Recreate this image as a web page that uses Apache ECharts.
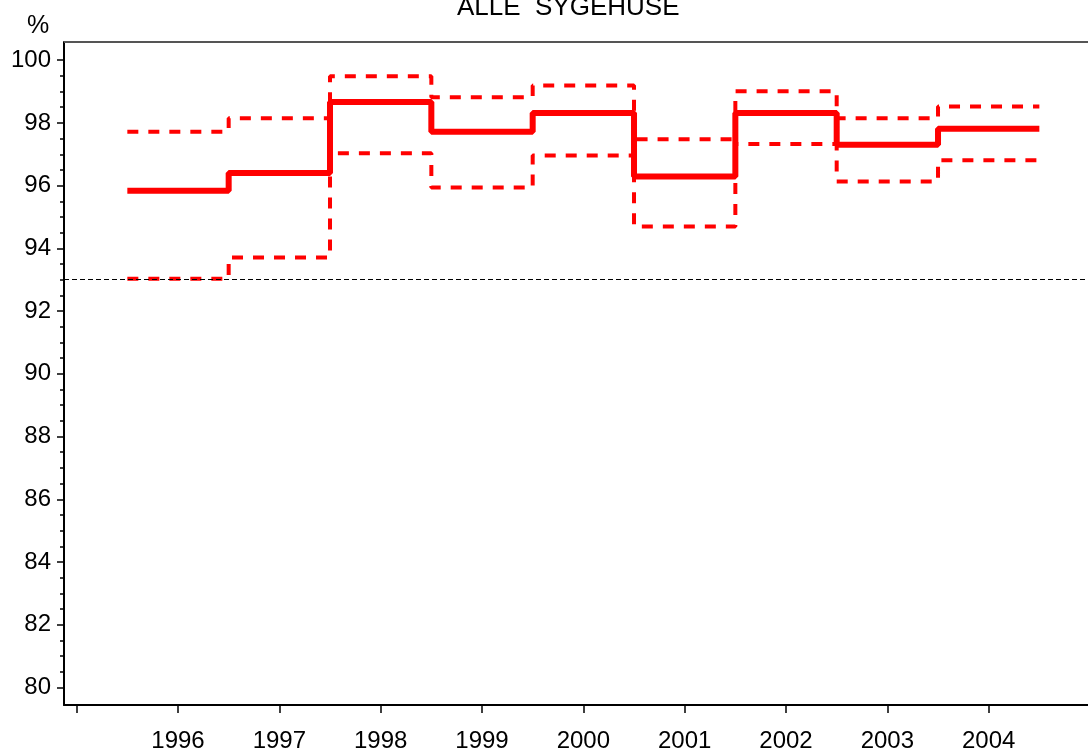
<!DOCTYPE html>
<html>
<head>
<meta charset="utf-8">
<script src="https://cdn.jsdelivr.net/npm/echarts@6/dist/echarts.min.js"></script>
<style>
  html, body { margin: 0; padding: 0; background: #fff; overflow: hidden; }
  #chart { width: 1088px; height: 753px; }
</style>
</head>
<body>
<div id="chart"></div>
<script>
// values, one step per year
const years = [1996, 1997, 1998, 1999, 2000, 2001, 2002, 2003, 2004]
const rate = [95.84, 96.40, 98.67, 97.72, 98.32, 96.29, 98.32, 97.30, 97.81]
const upper = [97.72, 98.15, 99.49, 98.82, 99.19, 97.48, 99.01, 98.15, 98.52]
const lower = [93.03, 93.71, 97.03, 95.94, 96.96, 94.70, 97.33, 96.13, 96.81]
const standard = 93

const yLabels = [80, 82, 84, 86, 88, 90, 92, 94, 96, 98, 100]
const xTicks = [1995, 1996, 1997, 1998, 1999, 2000, 2001, 2002, 2003, 2004, 2005]
const xLabels = years

// y range runs a little past 80 and 100, like the original frame
const yMin = 79.44
const yMax = 100.58

// minor ticks every half percent
const yMinor = []
for (let v = 80; v <= 100; v += 0.5) yMinor.push(v)

// each year is drawn as a flat step from mid-year to mid-year
function steps (vals) {
  const pts = []
  years.forEach((y, i) => {
    pts.push([y - 0.5, vals[i]])
    pts.push([y + 0.5, vals[i]])
  })
  return pts
}

const font = 'Liberation Sans, Arial, sans-serif'
const chart = echarts.init(document.getElementById('chart'))

chart.setOption({
  animation: false,
  backgroundColor: '#fff',
  title: {
    text: 'ALLE  SYGEHUSE',
    left: 452,
    top: -10,
    textStyle: { fontFamily: font, fontSize: 26, fontWeight: 'normal', color: '#000' }
  },
  graphic: [{
    type: 'text',
    left: 27,
    top: 14,
    style: { text: '%', fontFamily: font, fontSize: 25, fill: '#000' }
  }],
  grid: {
    left: 64,
    top: 42,
    bottom: 46,
    right: 0
  },
  xAxis: {
    type: 'value',
    min: 1994.875,
    max: 2004.98,
    splitLine: { show: false },
    axisLine: { lineStyle: { color: '#000', width: 2 } },
    axisTick: {
      customValues: xTicks,
      length: 8,
      lineStyle: { color: '#000', width: 1.5 }
    },
    axisLabel: {
      customValues: xLabels,
      margin: 24,
      fontFamily: font,
      fontSize: 24,
      color: '#000',
      formatter: v => String(v)
    }
  },
  yAxis: [{
    type: 'value',
    min: yMin,
    max: yMax,
    splitLine: { show: false },
    axisLine: { show: true, lineStyle: { color: '#000', width: 2 } },
    axisTick: {
      customValues: yLabels,
      length: 7,
      lineStyle: { color: '#000', width: 1.5 }
    },
    axisLabel: {
      customValues: yLabels,
      margin: 13,
      fontFamily: font,
      fontSize: 24,
      color: '#000'
    }
  }, {
    // overlay axis only for the short half-percent ticks
    type: 'value',
    position: 'left',
    min: yMin,
    max: yMax,
    splitLine: { show: false },
    axisLine: { show: false },
    axisLabel: { show: false },
    axisTick: {
      customValues: yMinor,
      length: 4,
      lineStyle: { color: '#000', width: 1.5 }
    }
  }],
  series: [{
    name: 'rate',
    type: 'line',
    data: steps(rate),
    showSymbol: false,
    lineStyle: { color: '#ff0000', width: 6 },
    // dashed standard line at 93 %
    markLine: {
      silent: true,
      symbol: 'none',
      label: { show: false },
      lineStyle: { color: '#000', type: [5, 3], width: 1 },
      data: [{ yAxis: standard }]
    },
    z: 3
  }, {
    name: 'upper',
    type: 'line',
    data: steps(upper),
    showSymbol: false,
    lineStyle: { color: '#ff0000', width: 4, type: [11, 10] },
    z: 4
  }, {
    name: 'lower',
    type: 'line',
    data: steps(lower),
    showSymbol: false,
    lineStyle: { color: '#ff0000', width: 4, type: [11, 10] },
    // top edge of the frame
    markLine: {
      silent: true,
      symbol: 'none',
      label: { show: false },
      lineStyle: { color: '#555', type: 'solid', width: 2 },
      data: [{ yAxis: yMax }]
    },
    z: 4
  }]
})
</script>
</body>
</html>
